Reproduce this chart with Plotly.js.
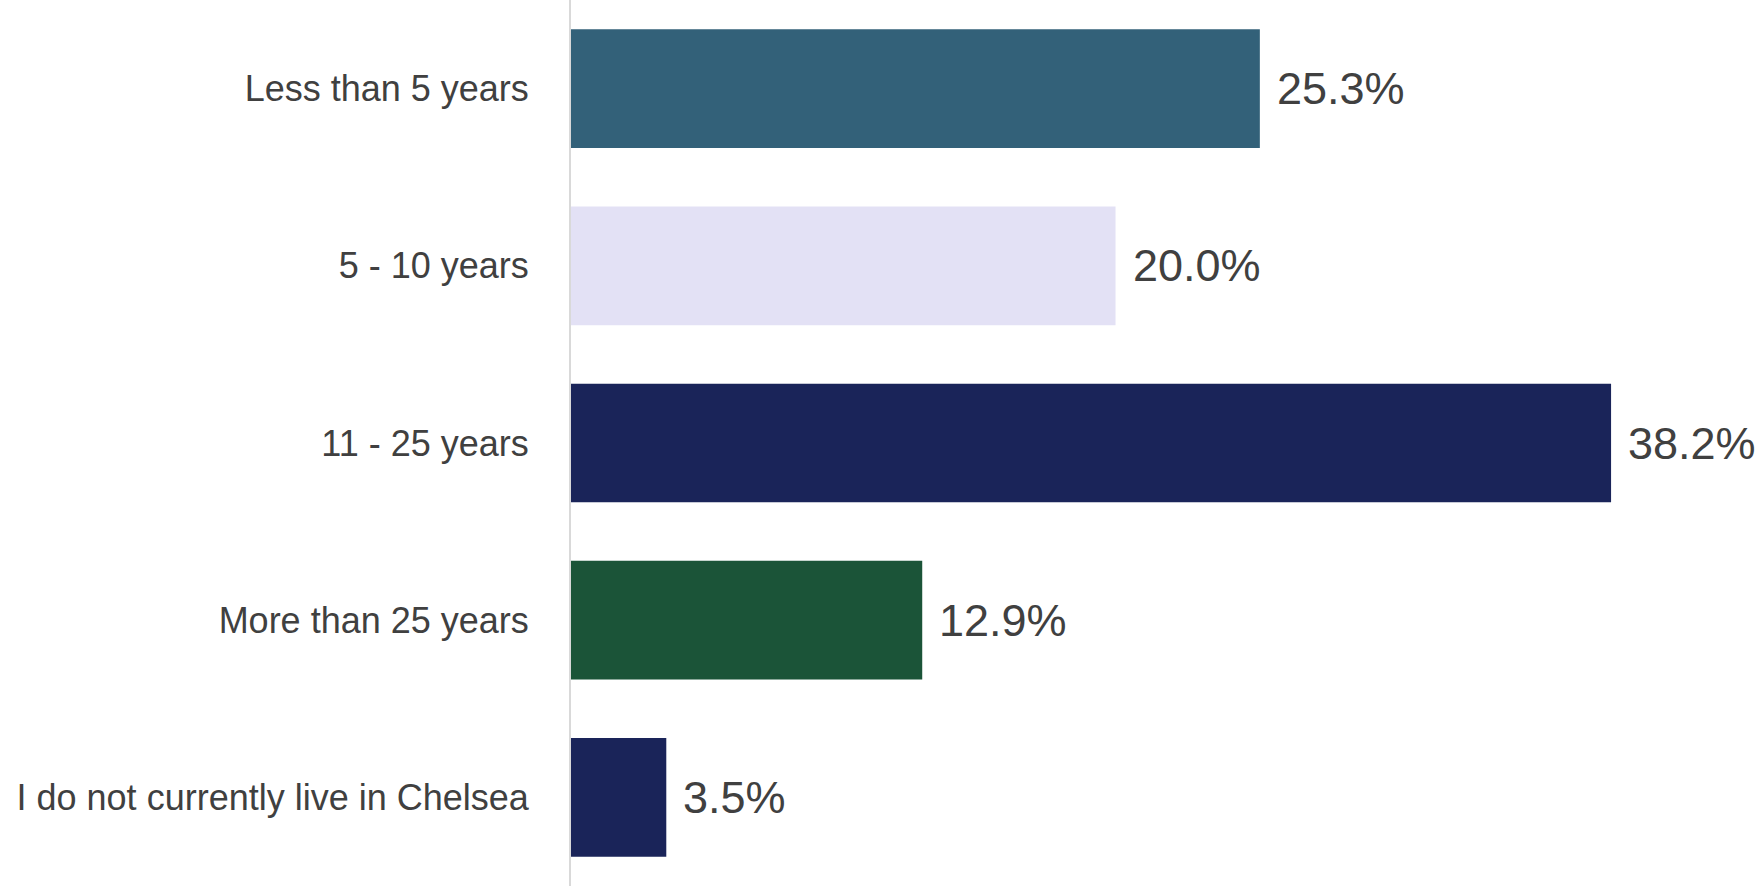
<!DOCTYPE html>
<html>
<head>
<meta charset="utf-8">
<script src="https://cdn.plot.ly/plotly-3.0.1.min.js"></script>
<style>
  html, body { margin: 0; padding: 0; background: #ffffff; }
  #chart { width: 1760px; height: 886px; }
</style>
</head>
<body>
<div id="chart"></div>
<script>
const categories = [
  "Less than 5 years",
  "5 - 10 years",
  "11 - 25 years",
  "More than 25 years",
  "I do not currently live in Chelsea"
];
const values = [25.3, 20.0, 38.2, 12.9, 3.5];
const valueLabels = ["25.3%", "20.0%", "38.2%", "12.9%", "3.5%"];
const barColors = ["#336179", "#e3e1f5", "#1a2459", "#1b5438", "#1a2459"];

const textColor = "#404040";

const trace = {
  type: "bar",
  orientation: "h",
  y: categories,
  x: values,
  marker: { color: barColors, line: { width: 0 } },
  hoverinfo: "skip"
};

const annotations = categories.map((c, i) => ({
  x: values[i],
  y: c,
  xref: "x",
  yref: "y",
  text: valueLabels[i],
  showarrow: false,
  xanchor: "left",
  yanchor: "middle",
  xshift: 15,
  font: { family: "Liberation Sans, Arial, sans-serif", size: 45, color: textColor }
}));

const layout = {
  width: 1760,
  height: 886,
  margin: { l: 571, r: 0, t: 0, b: 0, pad: 0 },
  paper_bgcolor: "#ffffff",
  plot_bgcolor: "#ffffff",
  showlegend: false,
  bargap: 0.33,
  xaxis: {
    range: [0, 43.67],
    showgrid: false,
    zeroline: false,
    showticklabels: false,
    showline: false,
    ticks: "",
    fixedrange: true
  },
  yaxis: {
    autorange: "reversed",
    showgrid: false,
    zeroline: false,
    showline: true,
    linecolor: "#d9d9d9",
    linewidth: 2,
    ticks: "",
    ticklabelstandoff: 33,
    tickfont: { family: "Liberation Sans, Arial, sans-serif", size: 36, color: textColor },
    fixedrange: true
  },
  annotations: annotations
};

Plotly.newPlot("chart", [trace], layout, { displayModeBar: false, staticPlot: true });
</script>
</body>
</html>
